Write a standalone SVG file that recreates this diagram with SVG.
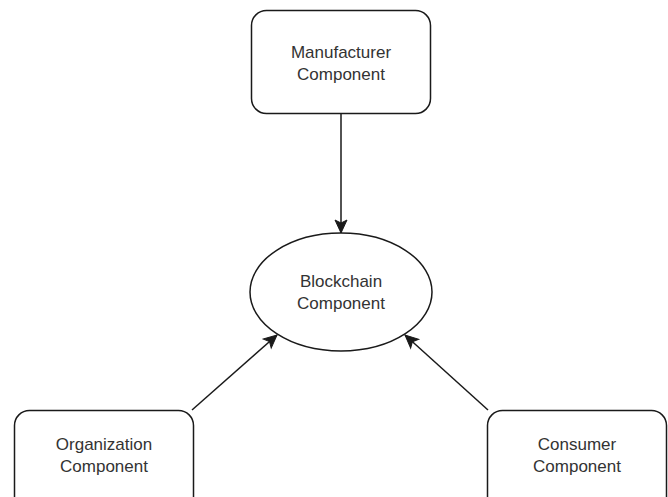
<svg xmlns="http://www.w3.org/2000/svg" width="668" height="497" viewBox="0 0 668 497">
<style>
.box{fill:#ffffff;stroke:#1a1a1a;stroke-width:1.5}
.lbl{font-family:"Liberation Sans",Arial,sans-serif;font-size:17px;fill:#333333;text-anchor:middle}
.edge{stroke:#1a1a1a;stroke-width:1.5;fill:none}
</style>
<defs>
<marker id="arr" markerUnits="userSpaceOnUse" markerWidth="16" markerHeight="16" viewBox="0 0 16 16" refX="14" refY="8" orient="auto">
<path d="M1,2 L14,8 L1,14 L4,8 Z" fill="#1a1a1a" stroke="#1a1a1a" stroke-width="1"/>
</marker>
</defs>
<rect width="668" height="497" fill="#ffffff"/>
<g id="connectors">
<line class="edge" x1="341" y1="114" x2="341" y2="233" marker-end="url(#arr)"/>
<line class="edge" x1="192" y1="410" x2="277" y2="335" marker-end="url(#arr)"/>
<line class="edge" x1="488" y1="410" x2="405" y2="335" marker-end="url(#arr)"/>
</g>
<g id="manufacturer">
<rect class="box" x="251.5" y="10.5" width="179" height="103" rx="15" ry="15"/>
<text class="lbl" x="341" y="58">Manufacturer</text>
<text class="lbl" x="341" y="80">Component</text>
</g>
<g id="blockchain">
<ellipse class="box" cx="341" cy="292" rx="91" ry="59"/>
<text class="lbl" x="341" y="287">Blockchain</text>
<text class="lbl" x="341" y="309">Component</text>
</g>
<g id="organization">
<rect class="box" x="14.5" y="410.5" width="179" height="103" rx="15" ry="15"/>
<text class="lbl" x="104" y="450">Organization</text>
<text class="lbl" x="104" y="472">Component</text>
</g>
<g id="consumer">
<rect class="box" x="487.5" y="410.5" width="179" height="103" rx="15" ry="15"/>
<text class="lbl" x="577" y="450">Consumer</text>
<text class="lbl" x="577" y="472">Component</text>
</g>
</svg>
